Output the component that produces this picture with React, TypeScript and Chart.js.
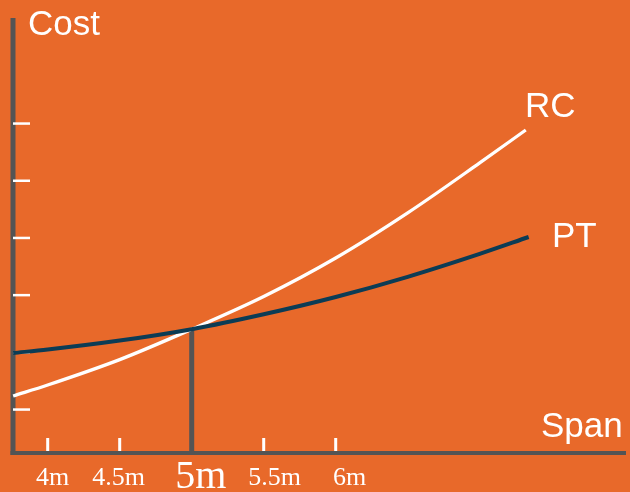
import React, { useEffect, useRef } from "react";
import { Chart, registerables } from "chart.js";

Chart.register(...registerables);

// ---- data ----
const X_TICKS = [4, 4.5, 5, 5.5, 6];
const X_TICK_LABELS = ["4m", "4.5m", "5m", "5.5m", "6m"];
const EMPHASIS_SPAN = 5;
const Y_TICKS = [1, 2, 3, 4, 5, 6];

const RC_SPAN = [3.76, 4, 4.5, 5, 5.5, 6, 6.5, 7, 7.32];
const RC_COST = [1.233, 1.425, 1.869, 2.4, 2.972, 3.645, 4.434, 5.308, 5.883];

const PT_SPAN = [3.76, 4, 4.5, 5, 5.5, 6, 6.5, 7, 7.34];
const PT_COST = [1.984, 2.045, 2.201, 2.4, 2.661, 2.963, 3.316, 3.717, 4.012];

const CROSS_COST = 2.4;

// ---- styles ----
const BG = "#E8692A";
const AXIS = "#545454";
const NAVY = "#0C3C55";
const WHITE = "#FFFFFF";
const LABEL_NUDGE = [5, -1, 9, 11, 14];

const decorPlugin = {
  id: "decor",
  beforeDatasetsDraw(chart: any) {
    const { ctx, chartArea, scales } = chart;
    const xs = scales.x;
    const ys = scales.y;
    const left = chartArea.left;
    const right = chartArea.right;
    const top = chartArea.top;
    const bottom = chartArea.bottom;
    ctx.save();
    // axes
    ctx.fillStyle = AXIS;
    ctx.fillRect(left - 2.5, top, 5, bottom - top + 2);
    ctx.fillRect(left - 2.5, bottom - 2, right - left + 2.5, 4);
    // y ticks
    ctx.fillStyle = WHITE;
    Y_TICKS.forEach((v) => {
      const y = ys.getPixelForValue(v);
      ctx.fillRect(left, y - 1, 17, 2.5);
    });
    // x ticks
    X_TICKS.forEach((v) => {
      if (v === EMPHASIS_SPAN) return;
      const x = xs.getPixelForValue(v);
      ctx.fillRect(x - 1.5, bottom - 15, 3, 13);
    });
    // drop line
    const dx = xs.getPixelForValue(EMPHASIS_SPAN);
    const dy = ys.getPixelForValue(CROSS_COST);
    ctx.fillStyle = AXIS;
    ctx.fillRect(dx - 2.5, dy, 5, bottom - dy);
    ctx.restore();
  },
  afterDraw(chart: any) {
    const { ctx, scales } = chart;
    const xs = scales.x;
    ctx.save();
    ctx.fillStyle = WHITE;
    ctx.textBaseline = "alphabetic";
    // tick labels
    ctx.textAlign = "center";
    X_TICKS.forEach((v, i) => {
      const big = v === EMPHASIS_SPAN;
      ctx.font = big ? '40px "Liberation Serif"' : '26px "Liberation Serif"';
      const x = xs.getPixelForValue(v) + LABEL_NUDGE[i];
      ctx.fillText(X_TICK_LABELS[i], x, big ? 488 : 484.5);
    });
    ctx.textAlign = "left";
    ctx.font = '35px "Liberation Sans"';
    ctx.fillText("Cost", 28, 35);
    ctx.fillText("RC", 525, 116.5);
    ctx.fillText("PT", 552, 246.5);
    ctx.fillText("Span", 541, 436.5);
    ctx.restore();
  },
};

export default function App() {
  const ref = useRef<HTMLCanvasElement | null>(null);

  useEffect(() => {
    document.body.style.margin = "0";
    document.body.style.background = BG;
    const canvas = ref.current;
    if (!canvas) return;
    const chart = new Chart(canvas, {
      type: "line",
      data: {
        datasets: [
          {
            label: "PT",
            data: PT_SPAN.map((x, i) => ({ x, y: PT_COST[i] })),
            borderColor: NAVY,
            borderWidth: 4,
            pointRadius: 0,
            cubicInterpolationMode: "monotone",
            fill: false,
            clip: false,
          },
          {
            label: "RC",
            data: RC_SPAN.map((x, i) => ({ x, y: RC_COST[i] })),
            borderColor: WHITE,
            borderWidth: 3.3,
            pointRadius: 0,
            cubicInterpolationMode: "monotone",
            fill: false,
            clip: false,
          },
        ],
      },
      options: {
        animation: false,
        responsive: false,
        devicePixelRatio: 1,
        layout: { padding: { left: 13, top: 18, right: 4, bottom: 39 } },
        plugins: {
          legend: { display: false },
          tooltip: { enabled: false },
          title: { display: false },
        },
        scales: {
          x: { type: "linear", min: 3.759, max: 8.016, display: false },
          y: { type: "linear", min: 0.236, max: 7.841, display: false },
        },
      },
      plugins: [decorPlugin],
    } as any);
    return () => chart.destroy();
  }, []);

  return (
    <div style={{ width: 630, height: 492, background: BG }}>
      <canvas ref={ref} width={630} height={492} style={{ display: "block" }} />
    </div>
  );
}
